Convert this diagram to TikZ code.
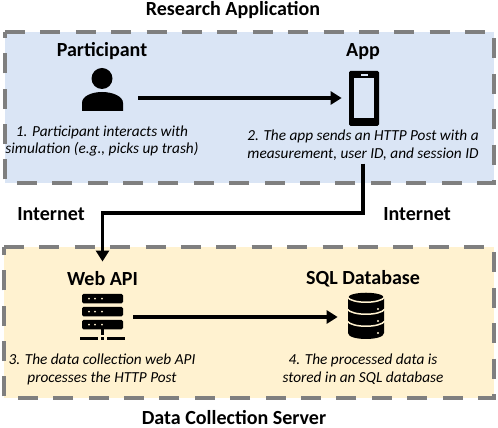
\documentclass[tikz,border=0pt]{standalone}
\usepackage{fontspec}
\setmainfont{Carlito}
\usetikzlibrary{arrows.meta}
\definecolor{RABlue}{RGB}{218,229,245}
\definecolor{DCCream}{RGB}{255,242,208}
\definecolor{BoxGray}{RGB}{127,127,127}
\definecolor{IconBlack}{RGB}{0,0,0}
\tikzset{
  panelbox/.style={draw=BoxGray,line width=.08cm,dash pattern=on .4cm off .308cm,line join=miter},
  heading/.style={font=\bfseries\fontsize{11.4}{13}\selectfont,inner sep=0pt},
  caption/.style={font=\itshape\fontsize{8.7}{10.2}\selectfont,align=center,inner sep=0pt},
  iconslot/.style={minimum width=#1,minimum height=.2cm,inner sep=0pt},
  flow/.style={line width=.066cm,-{Triangle[length=.22cm,width=.26cm]}},
}
\begin{document}
\begin{tikzpicture}[x=.02cm,y=-.02cm]
      \useasboundingbox (0,0) rectangle (498,428);
      \fill[RABlue] (5,32) rectangle (494,183);
      \fill[DCCream] (4,247) rectangle (494,398);
      \draw[panelbox] (5,32) -- (494,32) -- (494,183) -- (5,183) -- cycle;
      \draw[panelbox] (4,247) -- (494,247) -- (494,398) -- (4,398) -- cycle;
      \node[heading] (appTitle) at (233,10) {Research Application};
      \node[heading] (serverTitle) at (234,418) {Data Collection Server};
      \node[heading] (participantLabel) at (102,51) {Participant};
      \node[heading] (appLabel) at (363,52) {App};
      \node[heading] (apiLabel) at (102.5,279) {Web API};
      \node[heading] (dbLabel) at (363,279) {SQL Database};
      \node[heading] (netLeft) at (51,214) {Internet};
      \node[heading] (netRight) at (417,214) {Internet};
      \node[caption] (noteOne) at (102,141) {1. Participant interacts with\\simulation (e.g., picks up trash)};
      \node[caption] (noteTwo) at (363,145) {2. The app sends an HTTP Post with a\\measurement, user ID, and session ID};
      \node[caption] (noteThree) at (102,369) {3. The data collection web API\\processes the HTTP Post};
      \node[caption] (noteFour) at (363,369) {4. The processed data is\\stored in an SQL database};
      \node[iconslot=1.44cm] (person) at (102,98) {};
      \fill[IconBlack] (102,78.5) circle (10.5);
      \fill[IconBlack] (82,111) -- (82,103) .. controls (82,96) and (92,92) .. (102,92) .. controls (112,92) and (123,96) .. (123,103) -- (123,111) -- cycle;
      \node[iconslot=.88cm] (phone) at (364,98) {};
      \fill[IconBlack,rounded corners=.03cm] (349,71) rectangle (379,126);
      \fill[RABlue] (354,78) rectangle (374,118);
      \fill[RABlue] (361,74) rectangle (368,76);
      \foreach \y in {294,307,320} {
        \fill[IconBlack,rounded corners=.03cm] (82,\y) rectangle (123,\y+9.5);
        \foreach \x in {89,95,102} {
          \fill[DCCream] (\x,\y+4.7) circle (1);
        }
      }
      \fill[IconBlack] (101,329) rectangle (104,335);
      \fill[IconBlack] (80,337) rectangle (98,340);
      \fill[IconBlack] (101,337) rectangle (104,340);
      \fill[IconBlack] (107,337) rectangle (125,340);
      \node[iconslot=.72cm] (api) at (115,317) {};
      \node[iconslot=.6cm] (db) at (353,317) {};
      \fill[IconBlack] (348,298) .. controls (348,291) and (384,291) .. (384,298) -- (384,333) .. controls (384,341) and (348,341) .. (348,333) -- cycle;
      \foreach \y in {297,309,321} {
        \draw[DCCream,line width=.03cm] (347,\y) .. controls (352,\y+7) and (380,\y+7) .. (385,\y);
      }
      \foreach \y in {309,321,333} {
        \fill[DCCream] (378,\y) circle (1.2);
      }
      \coordinate (netTurn) at (233,213);
      \draw[flow] (person) -- (phone);
      \draw[flow] (api) -- (db);
      \draw[flow,shorten <=.06cm,shorten >=.2cm] (noteTwo.south) -- (noteTwo.south |- netTurn) -- (apiLabel.north |- netTurn) -- (apiLabel.north);
\end{tikzpicture}
\end{document}
